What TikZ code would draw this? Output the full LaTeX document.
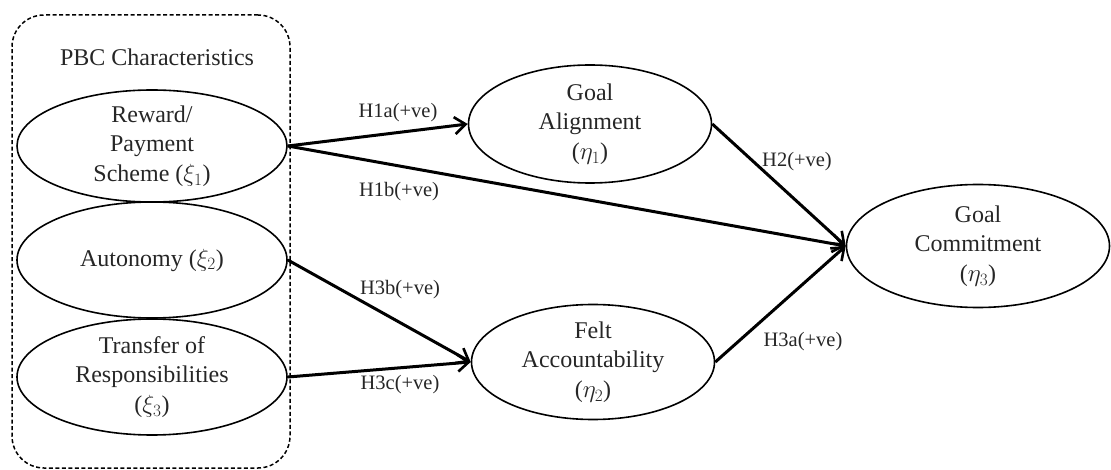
\documentclass[tikz,border=0pt]{standalone}
\usepackage{fontspec}
\setmainfont{Liberation Serif}
\usetikzlibrary{shapes.geometric,arrows.meta}
\begin{document}
\begin{tikzpicture}[x=1pt,y=-1pt,
  ell/.style={draw=black,ellipse,line width=1.6pt,inner sep=0pt},
  etext/.style={align=center,font=\fontsize{24}{29.5}\selectfont,text=black!85},
  hlab/.style={font=\fontsize{20.5}{24}\selectfont,text=black!85},
  conn/.style={line width=3pt,-{Straight Barb[length=11pt,width=17pt,line width=2.6pt]}},
  groupbox/.style={draw=black,dashed,dash pattern=on 4pt off 2.5pt,line width=1.5pt,rounded corners=32pt}]
\useasboundingbox (0,0) rectangle (1111,470);
\node[groupbox,minimum width=278pt,minimum height=453pt,inner sep=0pt] (box) at (151,241.5) {};
\node[etext] (pbc) at (157,57) {PBC Characteristics};
\node[ell,minimum width=270pt,minimum height=112pt,label={[etext]center:{Reward/\\Payment\\Scheme ($\xi_1$)}}] (rew) at (152,146) {};
\node[ell,minimum width=270pt,minimum height=116pt,label={[etext]center:{Autonomy ($\xi_2$)}}] (aut) at (152,260) {};
\node[ell,minimum width=270pt,minimum height=116pt,label={[etext]center:{Transfer of\\Responsibilities\\($\xi_3$)}}] (tra) at (152,377) {};
\node[ell,minimum width=243pt,minimum height=118pt,label={[etext]center:{Goal\\Alignment\\($\eta_1$)}}] (ga) at (590,124) {};
\node[ell,minimum width=243pt,minimum height=115pt,label={[etext]center:{Felt\\Accountability\\($\eta_2$)}}] (fa) at (593,362) {};
\node[ell,minimum width=263pt,minimum height=123pt,label={[etext]center:{Goal\\Commitment\\($\eta_3$)}}] (gc) at (978,246) {};
\draw[conn] (rew.east) -- (ga.west);
\draw[conn] (rew.east) -- (gc.west);
\draw[conn] (ga.east) -- (gc.west);
\draw[conn] (aut.east) -- (fa.west);
\draw[conn] (tra.east) -- (fa.west);
\draw[conn] (fa.east) -- (gc.west);
\node[hlab] (l1a) at (398,113) {H1a(+ve)};
\node[hlab] (l1b) at (399,192) {H1b(+ve)};
\node[hlab] (l3b) at (400,290) {H3b(+ve)};
\node[hlab] (l3c) at (400,385) {H3c(+ve)};
\node[hlab] (l2) at (797,162) {H2(+ve)};
\node[hlab] (l3a) at (803,342) {H3a(+ve)};
\end{tikzpicture}
\end{document}
